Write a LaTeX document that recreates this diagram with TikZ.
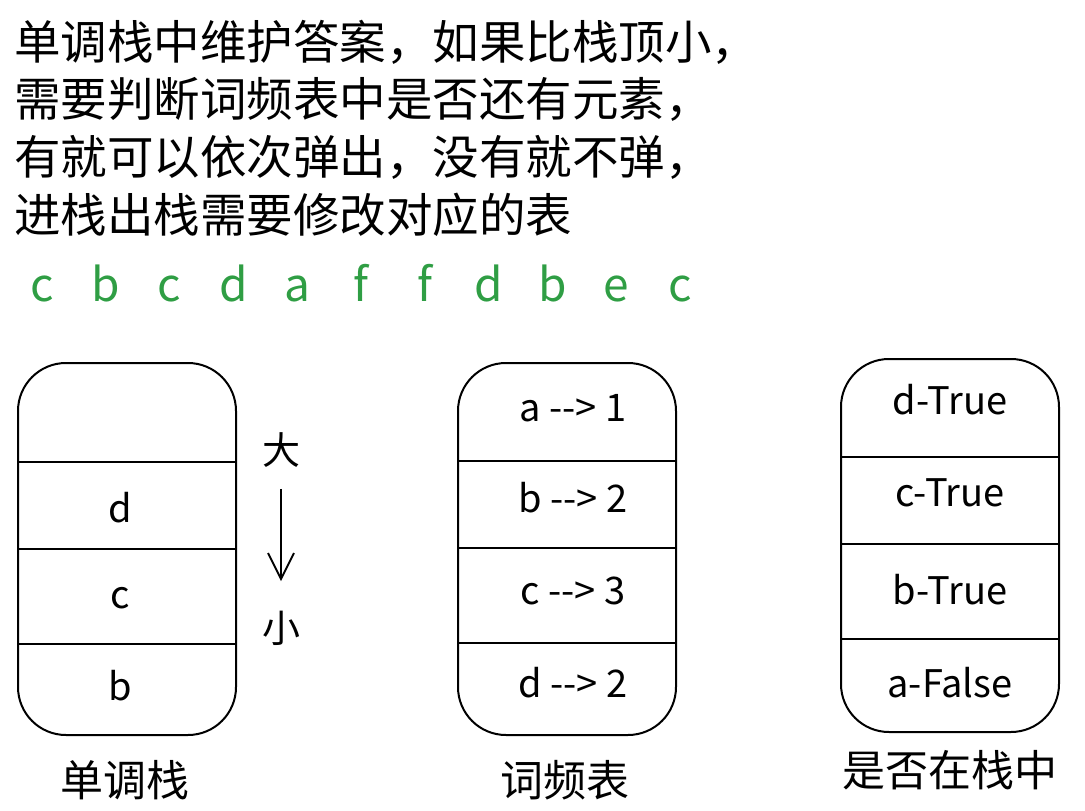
\documentclass[tikz,border=0pt]{standalone}
\usepackage{fontspec}
\setmainfont{Noto Sans CJK SC}
\usepackage{xcolor}
\usepackage{tikz}
\usetikzlibrary{arrows.meta}
\definecolor{seqgreen}{HTML}{2F9E44}

\tikzset{
    box/.style={draw,line width=2pt,rounded corners=48pt,minimum width=218pt,inner sep=0pt},
    cell/.style={font=\fontsize{38}{42}\selectfont},
    caption/.style={font=\fontsize{43}{46}\selectfont},
    divider/.style={line width=2pt}
}

\begin{document}
\begin{tikzpicture}[x=1pt,y=-1pt]
    \useasboundingbox (0,0) rectangle (1085,811);
    % Description lines
    \foreach \y/\txt in {42/单调栈中维护答案，如果比栈顶小，,
                         99/需要判断词频表中是否还有元素，,
                         157/有就可以依次弹出，没有就不弹，,
                         215/进栈出栈需要修改对应的表} {
        \node[anchor=west,inner sep=0pt,font=\fontsize{46.5}{50}\selectfont] at (14,\y) {\txt};
    }
    % Input sequence
    \foreach \ch [count=\i from 0] in {c,b,c,d,a,f,f,d,b,e,c} {
        \node[seqgreen,anchor=base,inner sep=0pt,font=\fontsize{46}{50}\selectfont] (s\i) at (42+63.8*\i,301) {\ch};
    }
    % Monotonic stack
    \node[box,minimum height=372pt] (stk) at (127,549) {};
    \draw[divider] (stk.west |- 0,462) -- (stk.east |- 0,462);
    \draw[divider] (stk.west |- 0,549) -- (stk.east |- 0,549);
    \draw[divider] (stk.west |- 0,644) -- (stk.east |- 0,644);
    \node[cell] (stkd) at (120,508) {d};
    \node[cell] (stkc) at (120,598) {c};
    \node[cell] (stkb) at (120,686) {b};
    \node[caption] (stkcap) at (125,780) {单调栈};
    % Order arrow
    \node[font=\fontsize{38}{42}\selectfont] (big) at (281,450) {大};
    \node[font=\fontsize{38}{42}\selectfont] (small) at (281,628) {小};
    \draw[line width=2pt,shorten <=18pt,shorten >=26pt,
          -{Straight Barb[length=26pt,width=26pt,line width=2pt]}] (big) -- (small);
    % Frequency table
    \node[box,minimum height=372pt] (freq) at (567,549) {};
    \draw[divider] (freq.west |- 0,461) -- (freq.east |- 0,461);
    \draw[divider] (freq.west |- 0,548) -- (freq.east |- 0,548);
    \draw[divider] (freq.west |- 0,643) -- (freq.east |- 0,643);
    \foreach \y/\k/\n in {408/a/1,498/b/2,591/c/3,683/d/2} {
        \node[cell] at (573,\y) {\k\ {-}{-}> \n};
    }
    \node[caption] (freqcap) at (565,780) {词频表};
    % In-stack flags
    \node[box,minimum height=373pt] (flag) at (950,545.5) {};
    \draw[divider] (flag.west |- 0,457) -- (flag.east |- 0,457);
    \draw[divider] (flag.west |- 0,544) -- (flag.east |- 0,544);
    \draw[divider] (flag.west |- 0,639) -- (flag.east |- 0,639);
    \foreach \y/\txt in {400/d-True,493/c-True,590/b-True,683/a-False} {
        \node[cell] at (950,\y) {\txt};
    }
    \node[caption] (flagcap) at (950,770) {是否在栈中};
\end{tikzpicture}
\end{document}
